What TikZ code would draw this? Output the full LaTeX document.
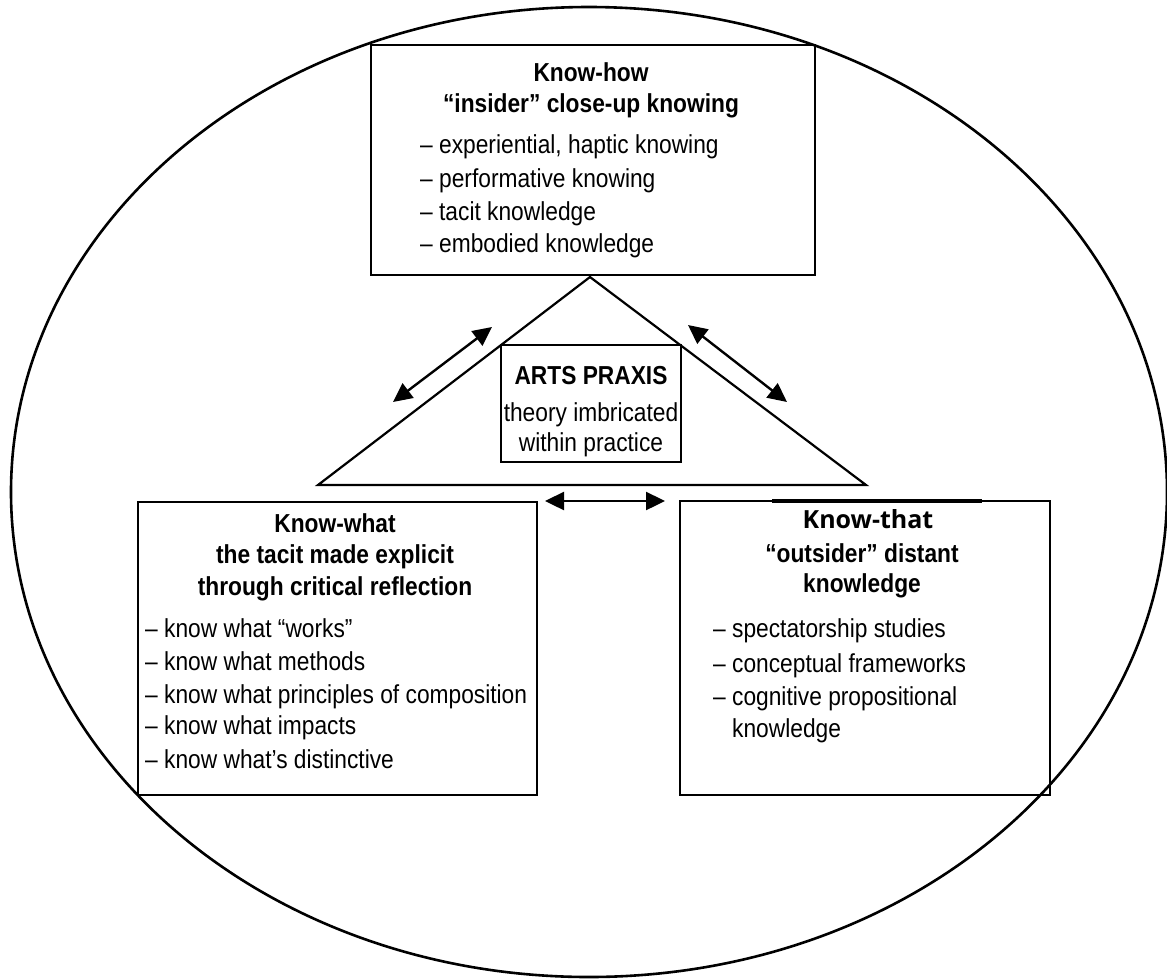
\documentclass[tikz,border=0pt]{standalone}
\usepackage{fontspec}
\setmainfont{Liberation Sans}[FakeStretch=0.875]
\newfontfamily\labelfont{Open Sans}
\usetikzlibrary{arrows.meta}

\begin{document}
\begin{tikzpicture}[x=1pt, y=-1pt,
  box/.style={draw, line width=1.8pt, inner sep=0pt},
  txt/.style={inner sep=0pt, font=\fontsize{26}{30}\selectfont},
  head/.style={inner sep=0pt, font=\fontsize{26}{30}\selectfont\bfseries},
  item/.style={txt, anchor=base west},
  biarrow/.style={line width=2.4pt, {Triangle[length=19pt, width=18pt]}-{Triangle[length=19pt, width=18pt]}},
]
\useasboundingbox (0,0) rectangle (1167,978);
\fill[white] (0,0) rectangle (1167,978);

% outer boundary
\draw[line width=2.6pt] (589,492) ellipse [x radius=578pt, y radius=485pt];

% the three knowledge boxes
\node[box, minimum width=444pt, minimum height=230pt] (how) at (593,160) {};
\node[box, minimum width=399pt, minimum height=293pt] (what) at (337.5,648.5) {};
\node[box, minimum width=370pt, minimum height=294pt] (that) at (865,648) {};

% central triangle and praxis box
\coordinate (apex) at (590,277);
\coordinate (bl) at (318,485);
\coordinate (br) at (866,485);
\draw[line width=2.2pt, line join=miter] (bl) -- (apex) -- (br) -- cycle;
\node[box, fill=white, minimum width=180pt, minimum height=117pt] (praxis) at (591,403.5) {};

% know-how
\node[head, anchor=base] (howT) at (591,81) {Know-how};
\node[head, anchor=base] (howS) at (591,112) {“insider” close-up knowing};
\node[item] (h1) at (420,153) {– experiential, haptic knowing};
\node[item] (h2) at (420,187) {– performative knowing};
\node[item] (h3) at (420,220) {– tacit knowledge};
\node[item] (h4) at (420,252) {– embodied knowledge};

% arts praxis
\node[head, anchor=base] (prT) at (591,384) {ARTS PRAXIS};
\node[txt, anchor=base] (pr1) at (591,421) {theory imbricated};
\node[txt, anchor=base] (pr2) at (591,451) {within practice};

% know-what
\node[head, anchor=base] (whatT) at (335,532) {Know-what};
\node[head, anchor=base] (whatS1) at (335,563) {the tacit made explicit};
\node[head, anchor=base] (whatS2) at (335,595) {through critical reflection};
\node[item] (w1) at (145,637) {– know what “works”};
\node[item] (w2) at (145,670) {– know what methods};
\node[item] (w3) at (145,703) {– know what principles of composition};
\node[item] (w4) at (145,734) {– know what impacts};
\node[item] (w5) at (145,768) {– know what’s distinctive};

% know-that
\draw[line width=3.4pt] (772,501) -- (982,501);
\node[inner sep=0pt, anchor=base, font=\labelfont\fontsize{25}{30}\selectfont\bfseries] (thatT) at (868,528) {Know-that};
\node[head, anchor=base] (thatS1) at (862,562) {“outsider” distant};
\node[head, anchor=base] (thatS2) at (862,592) {knowledge};
\node[item] (t1) at (713,637) {– spectatorship studies};
\node[item] (t2) at (713,672) {– conceptual frameworks};
\node[item] (t3) at (713,705) {– cognitive propositional};
\node[item] (t4) at (732,737) {knowledge};

% two-way links
\coordinate (la) at (393,402);
\coordinate (lb) at (492,327);
\coordinate (ra) at (688,325);
\coordinate (rb) at (787,402);
\coordinate (ha) at (545,501);
\coordinate (hb) at (665,501);
\draw[biarrow] (la) -- (lb);
\draw[biarrow] (ra) -- (rb);
\draw[biarrow] (ha) -- (hb);
\end{tikzpicture}
\end{document}
